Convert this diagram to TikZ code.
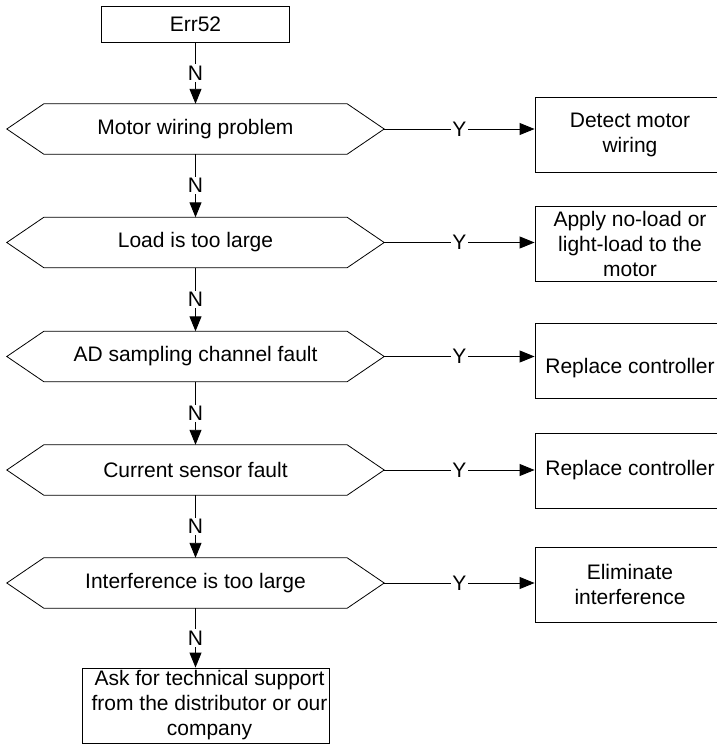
\documentclass[tikz,border=0pt]{standalone}
\usepackage{fontspec}
\setmainfont{Liberation Sans}
\usetikzlibrary{arrows.meta}
\newcommand\hexdraw[1]{%
  \draw[hexline] (#1.west) -- ([xshift=37pt]#1.north west) -- ([xshift=-37pt]#1.north east)
    -- (#1.east) -- ([xshift=-37pt]#1.south east) -- ([xshift=37pt]#1.south west) -- cycle;}
\begin{document}
\begin{tikzpicture}[x=1pt,y=-1pt,
  every node/.style={font=\fontsize{21}{25}\selectfont, align=center, inner sep=0pt},
  sbox/.style={draw, line width=0.9pt, minimum height=75pt},
  hexn/.style={minimum width=377pt, minimum height=50pt},
  hexline/.style={line width=0.8pt},
  arr/.style={line width=0.9pt, -{Triangle[length=15pt,width=12pt]}},
  lab/.style={fill=white, inner sep=1.5pt}]
\useasboundingbox (0,0) rectangle (716,744);

\node[sbox, minimum width=188pt, minimum height=36pt] (start) at (195.5,24) {Err52};

\node[hexn] (d1) at (195.5,129) {Motor wiring problem};
\node[hexn] (d2) at (195.5,242.5) {Load is too large};
\node[hexn] (d3) at (195.5,356.5) {AD sampling channel fault};
\node[hexn] (d4) at (195.5,470) {Current sensor fault};
\node[hexn] (d5) at (195.5,583) {Interference is too large};
\hexdraw{d1}\hexdraw{d2}\hexdraw{d3}\hexdraw{d4}\hexdraw{d5}

\node[sbox, minimum width=190pt] (r1) at (630,134.5) {Detect motor\\wiring};
\node[sbox, minimum width=190pt] (r2) at (630,243.5) {Apply no-load or\\light-load to the\\motor};
\node[sbox, minimum width=190pt] (r3) at (630,361) {};
\node (t3) at (630,368) {Replace controller};
\node[sbox, minimum width=190pt] (r4) at (630,470.5) {Replace controller};
\node[sbox, minimum width=190pt] (r5) at (630,584.5) {Eliminate\\interference};

\node[sbox, minimum width=247pt] (end) at (205.5,705.5) {};
\node (endt) at (209.5,705) {Ask for technical support\\from the distributor or our\\company};

\draw[arr] (start.south) -- node[lab] {N} (start.south |- d1.north);
\draw[arr] (d1.south) -- node[lab] {N} (d2.north);
\draw[arr] (d2.south) -- node[lab] {N} (d3.north);
\draw[arr] (d3.south) -- node[lab] {N} (d4.north);
\draw[arr] (d4.south) -- node[lab] {N} (d5.north);
\draw[arr] (d5.south) -- node[lab] {N} (d5.south |- end.north);

\draw[arr] (d1.east) -- node[lab] {Y} (d1.east -| r1.west);
\draw[arr] (d2.east) -- node[lab] {Y} (d2.east -| r2.west);
\draw[arr] (d3.east) -- node[lab] {Y} (d3.east -| r3.west);
\draw[arr] (d4.east) -- node[lab] {Y} (d4.east -| r4.west);
\draw[arr] (d5.east) -- node[lab] {Y} (d5.east -| r5.west);
\end{tikzpicture}
\end{document}
